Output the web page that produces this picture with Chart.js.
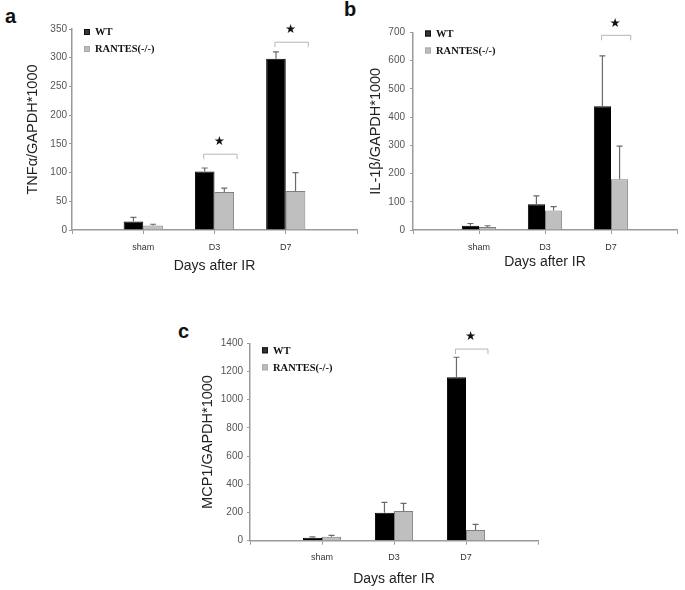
<!DOCTYPE html>
<html>
<head>
<meta charset="utf-8">
<script src="https://cdn.jsdelivr.net/npm/chart.js@4"></script>
<style>
  html, body { margin: 0; padding: 0; background: #fff; }
  body { width: 685px; height: 590px; position: relative; overflow: hidden; font-family: "Liberation Sans", Arial, sans-serif; }
  canvas { position: absolute; }
  .lbl { position: absolute; font-weight: bold; font-size: 20px; color: #111; line-height: 20px; }
</style>
</head>
<body>
<div class="lbl" style="left:5px;top:6px;">a</div>
<div class="lbl" style="left:344px;top:-1px;">b</div>
<div class="lbl" style="left:178px;top:321px;">c</div>
<canvas id="ca" width="365" height="285" style="left:0px;top:0px;width:365px;height:285px;"></canvas>
<canvas id="cb" width="345" height="285" style="left:340px;top:0px;width:345px;height:285px;"></canvas>
<canvas id="cc" width="375" height="290" style="left:170px;top:300px;width:375px;height:290px;"></canvas>
<script>
// ---------- data ----------
const categories = ['sham', 'D3', 'D7'];
const seriesNames = ['WT', 'RANTES(-/-)'];
const xTitle = 'Days after IR';

const tnfWT = [15, 102, 298];
const tnfWTerr = [7, 6, 12];
const tnfKO = [8, 66, 68];
const tnfKOerr = [2, 7, 32];
const tnfTicks = { max: 350, step: 50 };
const tnfSig = [{ cat: 'D3', level: 132 }, { cat: 'D7', level: 327 }];

const il1WT = [15, 91, 439];
const il1WTerr = [8, 30, 178];
const il1KO = [11, 69, 180];
const il1KOerr = [4, 14, 117];
const il1Ticks = { max: 700, step: 100 };
const il1Sig = [{ cat: 'D7', level: 690 }];

const mcpWT = [21, 199, 1159];
const mcpWTerr = [6, 73, 142];
const mcpKO = [28, 211, 76];
const mcpKOerr = [10, 54, 40];
const mcpTicks = { max: 1400, step: 200 };
const mcpSig = [{ cat: 'D7', level: 1359 }];

// ---------- helpers ----------
const pad = arr => [null, ...arr, null];
const paddedLabels = ['', ...categories, ''];

const errorBarPlugin = {
  id: 'errBars',
  afterDatasetsDraw(chart) {
    const ctx = chart.ctx;
    const y = chart.scales.y;
    chart.data.datasets.forEach((ds, di) => {
      const meta = chart.getDatasetMeta(di);
      meta.data.forEach((bar, i) => {
        const v = ds.data[i];
        const e = ds.errors ? ds.errors[i] : null;
        if (v == null || e == null) return;
        const top = y.getPixelForValue(v + e);
        const base = y.getPixelForValue(v);
        ctx.save();
        ctx.strokeStyle = '#6a6a6a';
        ctx.lineWidth = 1.2;
        ctx.beginPath();
        ctx.moveTo(bar.x, base);
        ctx.lineTo(bar.x, top);
        ctx.moveTo(bar.x - 3, top);
        ctx.lineTo(bar.x + 3, top);
        ctx.stroke();
        ctx.restore();
      });
    });
  }
};

const sigPlugin = {
  id: 'sig',
  afterDatasetsDraw(chart, args, opts) {
    const ctx = chart.ctx;
    const x = chart.scales.x, y = chart.scales.y;
    const sig = opts.items || [];
    const meta = chart.getDatasetMeta(0);
    sig.forEach(s => {
      const idx = chart.data.labels.indexOf(s.cat);
      const cx = x.getPixelForValue(idx);
      const bw = meta.data[idx] ? meta.data[idx].width : 18;
      const x1 = cx - 0.55 * bw, x2 = cx + 1.15 * bw;
      const py = y.getPixelForValue(s.level);
      ctx.save();
      ctx.strokeStyle = '#b5b5b5';
      ctx.lineWidth = 1;
      ctx.beginPath();
      ctx.moveTo(x1, py + 5);
      ctx.lineTo(x1, py);
      ctx.lineTo(x2, py);
      ctx.lineTo(x2, py + 5);
      ctx.stroke();
      ctx.fillStyle = '#111';
      ctx.font = '12.5px "DejaVu Sans"';
      ctx.textAlign = 'center';
      ctx.textBaseline = 'middle';
      ctx.fillText('\u2605', (x1 + x2) / 2 - 1, py - 12);
      ctx.restore();
    });
  }
};

const legendPlugin = {
  id: 'miniLegend',
  afterDraw(chart, args, opts) {
    const ctx = chart.ctx;
    const a = chart.chartArea;
    chart.data.datasets.forEach((ds, i) => {
      const lx = a.left + opts.dx;
      const ly = a.top + opts.dy + i * 17;
      ctx.save();
      ctx.fillStyle = i === 0 ? '#333' : '#bdbdbd';
      ctx.fillRect(lx, ly - 3, 6, 6);
      ctx.strokeStyle = i === 0 ? '#111' : '#aaa';
      ctx.lineWidth = 1;
      ctx.strokeRect(lx + 0.5, ly - 2.5, 5, 5);
      ctx.fillStyle = '#111';
      ctx.font = 'bold 10.5px "Liberation Serif"';
      ctx.textAlign = 'left';
      ctx.textBaseline = 'middle';
      ctx.fillText(ds.label, lx + 11, ly + 0.5);
      ctx.restore();
    });
  }
};

function makeChart(id, cfg) {
  const axisColor = '#9a9a9a';
  return new Chart(document.getElementById(id), {
    type: 'bar',
    data: {
      labels: paddedLabels,
      datasets: [
        { label: seriesNames[0], data: pad(cfg.wt), errors: pad(cfg.wtErr),
          backgroundColor: '#000', borderColor: '#000', borderWidth: 1 },
        { label: seriesNames[1], data: pad(cfg.ko), errors: pad(cfg.koErr),
          backgroundColor: '#bfbfbf', borderColor: '#7f7f7f', borderWidth: 1 }
      ]
    },
    options: {
      responsive: false,
      animation: false,
      devicePixelRatio: 1,
      layout: { padding: cfg.padding },
      datasets: { bar: { categoryPercentage: cfg.catPct, barPercentage: 1.0 } },
      plugins: {
        legend: { display: false },
        tooltip: { enabled: false },
        sig: { items: cfg.sig },
        miniLegend: { dx: 12, dy: cfg.legendDy }
      },
      scales: {
        x: {
          offset: false,
          grid: { offset: false, display: true, drawOnChartArea: false, tickLength: 4, color: axisColor },
          border: { color: axisColor, width: 1.5 },
          ticks: { color: '#333', font: { size: 9, family: '"Liberation Sans"' }, padding: cfg.xTickPad, maxRotation: 0, autoSkip: false },
          title: { display: true, text: xTitle, color: '#222', font: { size: 14, family: '"Liberation Sans"' }, padding: { top: 0, bottom: cfg.xTitlePad } },
          afterFit: s => { s.height = cfg.xHeight; }
        },
        y: {
          min: 0, max: cfg.ticks.max,
          grid: { display: true, drawOnChartArea: false, tickLength: 3, color: axisColor },
          border: { color: axisColor, width: 1.5 },
          ticks: { stepSize: cfg.ticks.step, color: '#555', font: { size: 10, family: '"Liberation Sans"' }, padding: cfg.yTickPad,
                   callback: v => String(v) },
          title: { display: true, text: cfg.yTitle, color: '#222', font: { size: cfg.yTitleSize, family: '"Liberation Sans"' }, padding: { top: cfg.yTitlePad, bottom: 0 } },
          afterFit: s => { s.width = cfg.yWidth; }
        }
      }
    },
    plugins: [errorBarPlugin, sigPlugin, legendPlugin]
  });
}

makeChart('ca', {
  wt: tnfWT, wtErr: tnfWTerr, ko: tnfKO, koErr: tnfKOerr, ticks: tnfTicks, sig: tnfSig,
  yTitle: 'TNF\u03b1/GAPDH*1000', yTitleSize: 14.5, yTitlePad: 24,
  padding: { left: 0, top: 29, right: 8, bottom: 0 },
  yWidth: 72, xHeight: 55, xTickPad: 8, xTitlePad: 10, yTickPad: 2,
  catPct: 0.55, legendDy: 3
});

makeChart('cb', {
  wt: il1WT, wtErr: il1WTerr, ko: il1KO, koErr: il1KOerr, ticks: il1Ticks, sig: il1Sig,
  yTitle: 'IL-1\u03b2/GAPDH*1000', yTitleSize: 14.5, yTitlePad: 27,
  padding: { left: 0, top: 32.5, right: 3, bottom: 0 },
  yWidth: 73, xHeight: 55, xTickPad: 8, xTitlePad: 14, yTickPad: 5,
  catPct: 0.52, legendDy: 1
});

makeChart('cc', {
  wt: mcpWT, wtErr: mcpWTerr, ko: mcpKO, koErr: mcpKOerr, ticks: mcpTicks, sig: mcpSig,
  yTitle: 'MCP1/GAPDH*1000', yTitleSize: 14.5, yTitlePad: 29,
  padding: { left: 0, top: 43.3, right: 7, bottom: 0 },
  yWidth: 80, xHeight: 49.3, xTickPad: 7, xTitlePad: 2, yTickPad: 4,
  catPct: 0.53, legendDy: 7
});
</script>
</body>
</html>
